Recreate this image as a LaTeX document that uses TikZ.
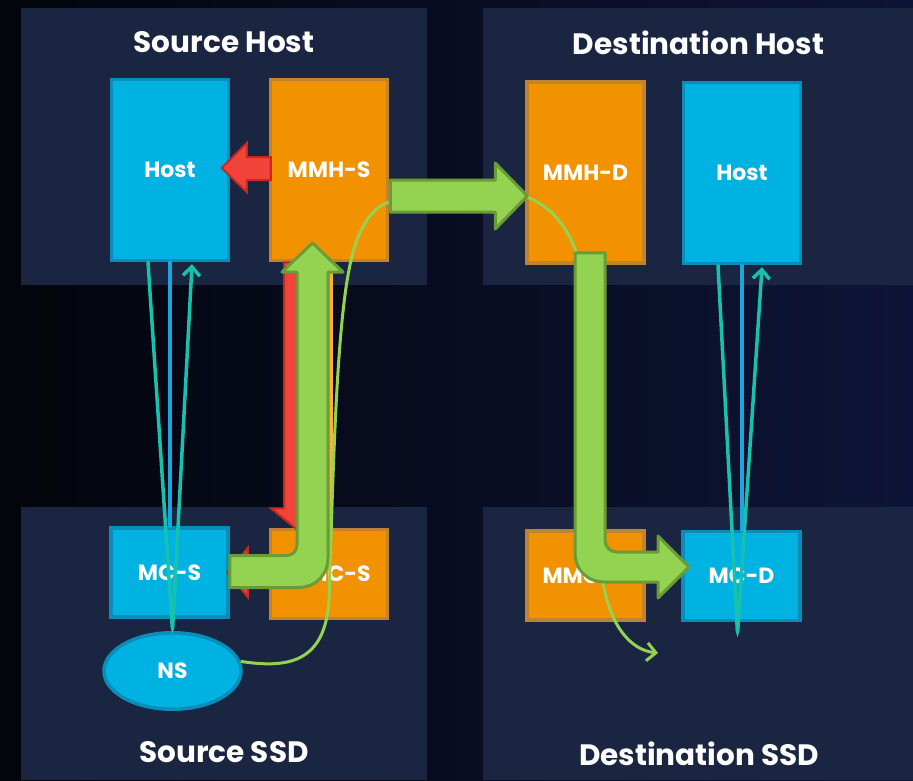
\documentclass[tikz,border=0pt]{standalone}
\usepackage{fontspec}
\setmainfont{Poppins}
\usetikzlibrary{shapes.geometric,arrows.meta,calc}

\definecolor{bgblack}{HTML}{03050C}
\definecolor{bgnavy}{HTML}{0E1437}
\definecolor{panelblue}{HTML}{1A2542}
\definecolor{hostcyan}{HTML}{00B2E2}
\definecolor{hostedge}{HTML}{0A8DB8}
\definecolor{mmorange}{HTML}{F39200}
\definecolor{mmedge}{HTML}{C2832F}
\definecolor{redfill}{HTML}{F2433A}
\definecolor{rededge}{HTML}{C42A20}
\definecolor{greenfill}{HTML}{94D352}
\definecolor{greenedge}{HTML}{6A9C36}
\definecolor{tealline}{HTML}{16C1AE}
\definecolor{blueline}{HTML}{1BA6E0}
\definecolor{barorange}{HTML}{F7B23B}

\def\unitw{117pt}
\def\tallh{181pt}
\def\shorth{89pt}

\begin{document}
\begin{tikzpicture}[x=1pt,y=-1pt]
    \tikzstyle{panel}=[fill=panelblue]
    \tikzstyle{title}=[text=white,font=\bfseries\fontsize{29.5}{30}\selectfont,anchor=base,inner sep=0pt]
    \tikzstyle{unit}=[draw,line width=3.5pt,text=white,font=\bfseries\fontsize{22}{22}\selectfont,inner sep=0pt,minimum width=\unitw]
    \tikzstyle{host unit}=[unit, fill=hostcyan, draw=hostedge]
    \tikzstyle{mm unit}=[unit, fill=mmorange, draw=mmedge]
    \tikzstyle{red block}=[fill=redfill, draw=rededge, line width=2pt, line join=miter]
    \tikzstyle{green block}=[fill=greenfill, draw=greenedge, line width=3pt, line join=round]
    \tikzstyle{link}=[line width=3.5pt, line cap=round]
    \tikzstyle{thin green}=[draw=greenfill, line width=3pt]

    \useasboundingbox (0,0) rectangle (913,780);
    \shade[left color=bgblack, right color=bgnavy] (0,0) rectangle (913,780);

    % Draw the four panels
    \foreach \xa / \ya / \xb / \yb in {21/8/427/285, 483/8/913/285, 21/507/427/780, 483/507/913/780}
        \fill[panel] (\xa,\ya) rectangle (\xb,\yb);

    % Panel titles
    \foreach \name / \x / \y / \txt in {src-host/224/52/Source Host, dst-host/698.5/54/Destination Host,
                                        src-ssd/224/762/Source SSD, dst-ssd/699/765/Destination SSD}
        \node[title] (\name) at (\x,\y) {\txt};

    % Draw the host side units
    \node[host unit, minimum height=\tallh] (host-s) at (170,170) {Host};
    \node[mm unit, minimum height=\tallh] (mmh-s) at (329,170) {MMH-S};
    \node[mm unit, minimum height=\tallh] (mmh-d) at (585.5,172.5) {MMH-D};
    \node[host unit, minimum height=\tallh] (host-d) at (742,173) {Host};

    % Draw the SSD side units
    \node[host unit, minimum height=\shorth] (mc-s) at (169.5,572.5) {MC-S};
    \node[mm unit, minimum height=\shorth] (mmc-s) at (329,574) {MMC-S};
    \node[mm unit, minimum height=\shorth] (mmc-d) at (585.5,575.5) {MMC-D};
    \node[host unit, minimum height=\shorth] (mc-d) at (741.5,576) {MC-D};
    \node[host unit, ellipse, minimum width=137pt, minimum height=76.5pt] (ns) at (172.5,671) {NS};

    % Red block arrows
    \draw[red block] ($(mmh-s.west)+(2,-13)$) -- ++(-24,0) -- ++(0,-14) -- ++(-25,25)
        -- ++(25,24) -- ++(0,-12) -- ++(24,0) -- cycle;
    \draw[red block] ($(mmh-s.south)+(-45,0)$) -- ++(0,246) -- ++(-13,0) -- ++(27,22)
        -- ++(27,-22) -- ++(-13,0) -- ++(0,-246) -- cycle;
    \draw[red block] ($(mmc-s.west)+(0,-12)$) -- ++(-21,0) -- ++(0,-14) -- ++(-20,24.5)
        -- ++(20,24.5) -- ++(0,-13) -- ++(21,0) -- cycle;
    \fill[barorange] ($(mmh-s.south)+(-16,0)$) rectangle ($(mmc-s.north)+(4,0)$);

    % Host <-> controller links
    \coordinate (vd) at ($(mc-d.south)+(-4,12)$);
    \draw[link, draw=blueline] (host-s.south) -- (host-s.south |- mc-s.north);
    \draw[link, draw=blueline] (host-d.south) -- (host-d.south |- mc-d.north);
    \draw[link, draw=tealline, rounded corners=5pt, -{Straight Barb[length=9pt,width=17pt]}]
        ($(host-s.south)+(-22,0)$) -- (ns.north) -- ($(host-s.south)+(22,2)$);
    \draw[link, draw=tealline, rounded corners=5pt, -{Straight Barb[length=9pt,width=17pt]}]
        ($(host-d.south)+(-24,0)$) -- (vd) -- ($(host-d.south)+(20,2)$);

    % Thin path from NS over to the destination
    \draw[thin green, -{Straight Barb[length=9pt,width=18pt]}] (ns.8)
        .. controls (285,668) and (325,665) .. (329,600)
        .. controls (333,480) and (336,330) .. (350,265)
        .. controls (358,225) and (375,205) .. (390,202) -- (527,197)
        .. controls (548,205) and (570,225) .. (580,265)
        .. controls (590,320) and (596,520) .. (603,582)
        .. controls (610,625) and (630,650) .. (658,653);

    % Green block arrows
    \draw[green block] ($(mc-s.east)+(0,-17)$) -- (285,555.5)
        .. controls (293,555.5) and (297,551.5) .. (297,543.5) -- (297,272) -- (282,272)
        -- (312.5,243) -- (343,272) -- (328,272) -- (328,557)
        .. controls (328,575) and (316,587.5) .. (298,587.5) -- ($(mc-s.east)+(0,15)$) -- cycle;
    \draw[green block] ($(mmh-s.east)+(1,10)$) -- ++(105,0) -- ++(0,-17) -- ++(32,33)
        -- ++(-32,33) -- ++(0,-17) -- ++(-105,0) -- cycle;
    \draw[green block] ($(mmh-d.south)+(-10.5,-12)$) -- (575,552)
        .. controls (575,570) and (587,582) .. (605,582) -- (658,582) -- (658,598)
        -- (689,567) -- (658,536) -- (658,552) -- (617,552)
        .. controls (610,552) and (605,547) .. (605,540) -- ($(mmh-d.south)+(19.5,-12)$) -- cycle;

\end{tikzpicture}
\end{document}
